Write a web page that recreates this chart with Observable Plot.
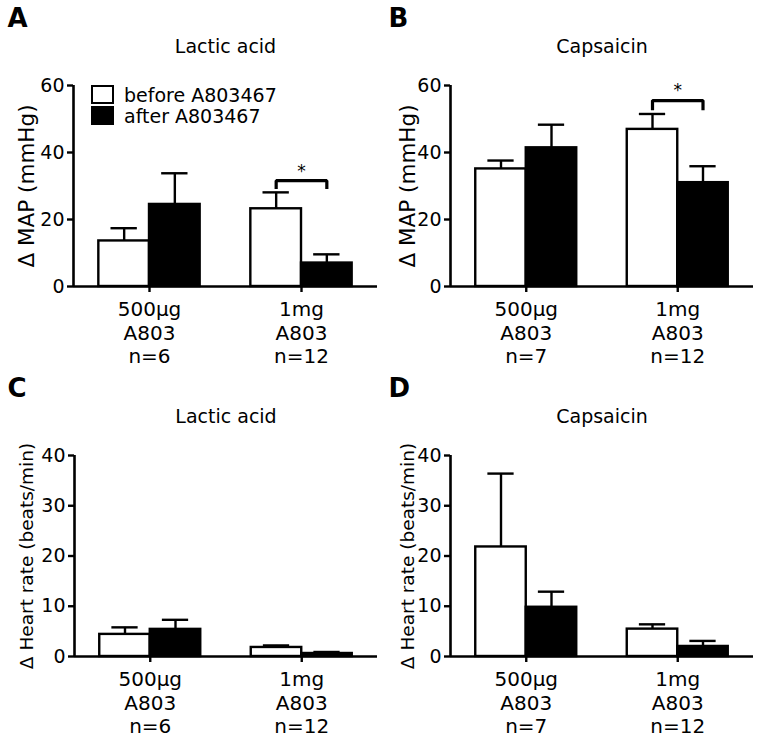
<!DOCTYPE html>
<html>
<head>
<meta charset="utf-8">
<script src="https://cdn.jsdelivr.net/npm/d3@7"></script>
<script src="https://cdn.jsdelivr.net/npm/@observablehq/plot@0.6"></script>
<style>
  body { margin: 0; background: #fff; }
  #wrap { position: relative; width: 762px; height: 741px; font-family: "DejaVu Sans", sans-serif; }
  .panel { position: absolute; }
  .legend { position: absolute; left: 91px; top: 84px; font-size: 19px; color: #000; }
  .legend .row { display: flex; align-items: center; height: 21px; }
  .legend .box { width: 19px; height: 15px; border: 2.5px solid #000; margin-right: 10px; }
</style>
</head>
<body>
<div id="wrap"></div>
<script>
// ---- data ----
const doses = ["500μg", "1mg"];
const drug = "A803";
const nLactic = [6, 12];
const nCapsaicin = [7, 12];
const seriesNames = ["before A803467", "after A803467"];
const seriesFill = ["white", "black"];

// MAP, lactic acid (panel A)
const mapLacticBefore = [13.6, 23.2];
const mapLacticBeforeSem = [3.8, 4.9];
const mapLacticAfter = [24.5, 7.0];
const mapLacticAfterSem = [9.3, 2.6];
// MAP, capsaicin (panel B)
const mapCapBefore = [35.1, 46.9];
const mapCapBeforeSem = [2.5, 4.6];
const mapCapAfter = [41.4, 31.0];
const mapCapAfterSem = [6.9, 4.9];
// Heart rate, lactic acid (panel C)
const hrLacticBefore = [4.4, 1.8];
const hrLacticBeforeSem = [1.4, 0.4];
const hrLacticAfter = [5.4, 0.6];
const hrLacticAfterSem = [1.9, 0.3];
// Heart rate, capsaicin (panel D)
const hrCapBefore = [21.8, 5.45];
const hrCapBeforeSem = [14.6, 0.95];
const hrCapAfter = [9.8, 2.0];
const hrCapAfterSem = [3.1, 1.1];

const mapTicks = [0, 20, 40, 60];
const hrTicks = [0, 10, 20, 30, 40];

// significance brackets: group index, top of bracket, end of drop, star level
const sigA = {group: 1, top: 31.6, end: 29.1, star: 34.2};
const sigB = {group: 1, top: 55.5, end: 52.6, star: 58.6};

function panel({letter, title, ylabel, ylabelSize, ticks, n, before, beforeSem, after, afterSem, sig, marginLeft, marginRight, height}) {
  const rows = [];
  doses.forEach((dose, g) => {
    [[before, beforeSem], [after, afterSem]].forEach(([m, e], s) => {
      rows.push({g, s, x1: g * 3 + 0.5 + s, x2: g * 3 + 1.5 + s, cx: g * 3 + 1 + s, v: m[g], e: e[g], fill: seriesFill[s]});
    });
  });
  const groups = doses.map((dose, g) => ({cx: g * 3 + 1.5, label: `${dose}\n${drug}\nn=${n[g]}`}));
  const yMax = ticks[ticks.length - 1];
  const marks = [
    Plot.rectY(rows, {x1: "x1", x2: "x2", y: "v", fill: "fill", stroke: "black", strokeWidth: 2.4}),
    Plot.ruleX(rows, {x: "cx", y1: "v", y2: d => d.v + d.e, strokeWidth: 2.4}),
    Plot.ruleY(rows, {y: d => d.v + d.e, x1: d => d.cx - 0.26, x2: d => d.cx + 0.26, strokeWidth: 2.4}),
    Plot.ruleY([0], {strokeWidth: 2.6}),
    Plot.ruleX([0], {y1: 0, y2: yMax, strokeWidth: 2.6}),
    Plot.axisY({ticks, tickSize: 6, tickPadding: 3, strokeWidth: 2.4, label: null, fontSize: 19}),
    Plot.axisX({ticks: groups.map(d => d.cx), tickSize: 6, strokeWidth: 2.4, tickFormat: () => "", label: null}),
    Plot.text(groups, {x: "cx", y: 0, text: "label", lineAnchor: "top", dy: 13, fontSize: 20, lineHeight: 1.17}),
    Plot.text([ylabel], {frameAnchor: "left", rotate: -90, textAnchor: "middle", lineAnchor: "middle", dx: -(marginLeft - 27), fontSize: ylabelSize}),
    Plot.text([title], {frameAnchor: "top", textAnchor: "middle", lineAnchor: "middle", dy: -39, fontSize: 19}),
    Plot.text([letter], {frameAnchor: "top-left", dx: -(marginLeft - 7), dy: -67, textAnchor: "start", lineAnchor: "middle", fontSize: 26, fontWeight: "bold"})
  ];
  if (sig) {
    const cw = sig.group * 3 + 1, cb = sig.group * 3 + 2;
    const pts = [{x: cw, y: sig.end}, {x: cw, y: sig.top}, {x: cb, y: sig.top}, {x: cb, y: sig.end}];
    marks.push(Plot.line(pts, {x: "x", y: "y", strokeWidth: 3.2, strokeLinejoin: "miter", strokeLinecap: "butt"}));
    marks.push(Plot.text([{x: sig.group * 3 + 1.5, y: sig.star}], {x: "x", y: "y", text: () => "*", fontSize: 17}));
  }
  return Plot.plot({
    width: 381,
    height,
    marginLeft,
    marginRight,
    marginTop: 85,
    marginBottom: height - 286,
    style: {fontFamily: "DejaVu Sans", fontSize: "19px", color: "black", background: "white"},
    x: {type: "linear", domain: [0, 6]},
    y: {domain: [0, yMax]},
    color: {type: "identity"},
    marks
  });
}

const wrap = document.getElementById("wrap");
const specs = [
  {left: 0, top: 0, letter: "A", title: "Lactic acid", ylabel: "Δ MAP (mmHg)", ylabelSize: 21.5, ticks: mapTicks, n: nLactic,
   before: mapLacticBefore, beforeSem: mapLacticBeforeSem, after: mapLacticAfter, afterSem: mapLacticAfterSem, sig: sigA, marginLeft: 73, marginRight: 4, height: 370},
  {left: 381, top: 0, letter: "B", title: "Capsaicin", ylabel: "Δ MAP (mmHg)", ylabelSize: 21.5, ticks: mapTicks, n: nCapsaicin,
   before: mapCapBefore, beforeSem: mapCapBeforeSem, after: mapCapAfter, afterSem: mapCapAfterSem, sig: sigB, marginLeft: 69, marginRight: 9, height: 370},
  {left: 0, top: 370, letter: "C", title: "Lactic acid", ylabel: "Δ Heart rate (beats/min)", ylabelSize: 18.5, ticks: hrTicks, n: nLactic,
   before: hrLacticBefore, beforeSem: hrLacticBeforeSem, after: hrLacticAfter, afterSem: hrLacticAfterSem, sig: null, marginLeft: 74, marginRight: 4, height: 371},
  {left: 381, top: 370, letter: "D", title: "Capsaicin", ylabel: "Δ Heart rate (beats/min)", ylabelSize: 18.5, ticks: hrTicks, n: nCapsaicin,
   before: hrCapBefore, beforeSem: hrCapBeforeSem, after: hrCapAfter, afterSem: hrCapAfterSem, sig: null, marginLeft: 69, marginRight: 9, height: 371}
];
for (const s of specs) {
  const div = document.createElement("div");
  div.className = "panel";
  div.style.left = s.left + "px";
  div.style.top = s.top + "px";
  div.appendChild(panel(s));
  wrap.appendChild(div);
}
// legend for panel A
const legend = document.createElement("div");
legend.className = "legend";
seriesNames.forEach((name, i) => {
  const row = document.createElement("div");
  row.className = "row";
  const box = document.createElement("span");
  box.className = "box";
  box.style.background = seriesFill[i];
  const label = document.createElement("span");
  label.textContent = name;
  row.appendChild(box);
  row.appendChild(label);
  legend.appendChild(row);
});
wrap.appendChild(legend);
</script>
</body>
</html>
